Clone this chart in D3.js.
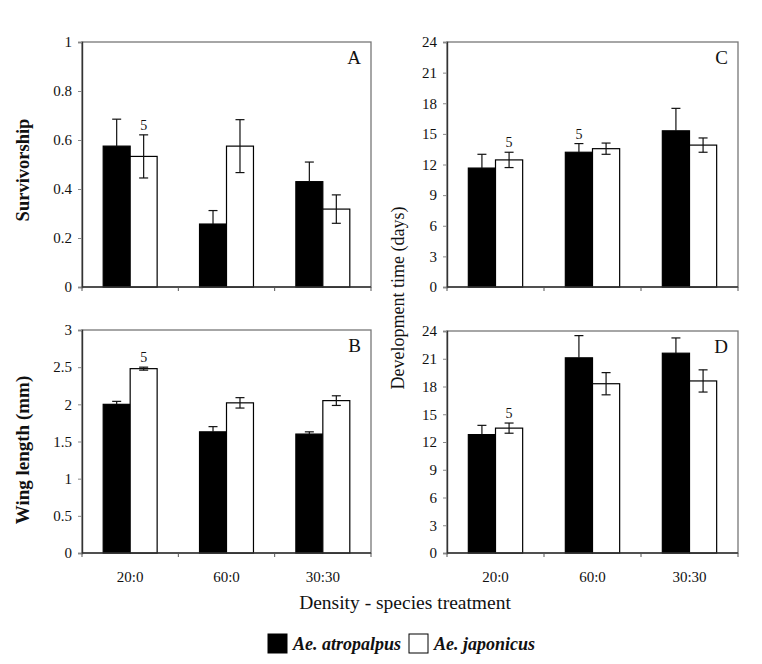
<!DOCTYPE html>
<html><head><meta charset="utf-8">
<script src="https://cdn.jsdelivr.net/npm/d3@7"></script>
<style>
body{margin:0;background:#fff;}
svg, svg text{font-family:"Liberation Serif","Times New Roman",Tinos,"DejaVu Serif",serif !important;}
</style></head>
<body>
<svg id="chart" width="762" height="664"></svg>
<script>
// ---- data ----
const categories = ["20:0", "60:0", "30:30"];
const seriesNames = ["Ae. atropalpus", "Ae. japonicus"];

const survAtro = [0.575, 0.257, 0.43];
const survAtroErr = [0.11, 0.055, 0.08];
const survJap = [0.533, 0.575, 0.318];
const survJapErr = [0.088, 0.108, 0.058];

const wingAtro = [2.0, 1.63, 1.6];
const wingAtroErr = [0.04, 0.07, 0.03];
const wingJap = [2.48, 2.02, 2.05];
const wingJapErr = [0.02, 0.07, 0.065];

const devCAtro = [11.65, 13.2, 15.3];
const devCAtroErr = [1.35, 0.85, 2.2];
const devCJap = [12.45, 13.55, 13.9];
const devCJapErr = [0.75, 0.55, 0.7];

const devDAtro = [12.8, 21.1, 21.6];
const devDAtroErr = [1.0, 2.4, 1.65];
const devDJap = [13.5, 18.3, 18.6];
const devDJapErr = [0.55, 1.2, 1.2];

const survTicks = [0, 0.2, 0.4, 0.6, 0.8, 1];
const wingTicks = [0, 0.5, 1, 1.5, 2, 2.5, 3];
const devTicks = [0, 3, 6, 9, 12, 15, 18, 21, 24];

// sample-size notes: [category index, series index, label]
const notesA = [[0, 1, "5"]];
const notesB = [[0, 1, "5"]];
const notesC = [[0, 1, "5"], [1, 0, "5"]];
const notesD = [[0, 1, "5"]];

const fills = ["#000000", "#ffffff"];
const FONT = "'Liberation Serif', 'Times New Roman', Tinos, 'DejaVu Serif', serif";

// ---- drawing ----
const svg = d3.select("#chart");

function panel(opts) {
  const {x0, x1, y0, y1, max, ticks, fmt, atro, atroErr, jap, japErr, letter, notes, showX} = opts;
  const g = svg.append("g").attr("font-family", FONT);
  const x = d3.scaleBand().domain(categories).range([x0, x1]).paddingInner(0.44).paddingOuter(0.22);
  const xs = d3.scaleBand().domain([0, 1]).range([0, x.bandwidth()]);
  const y = d3.scaleLinear().domain([0, max]).range([y1, y0]);

  // frame
  g.append("rect").attr("x", x0).attr("y", y0).attr("width", x1 - x0).attr("height", y1 - y0)
    .attr("fill", "none").attr("stroke", "#777").attr("stroke-width", 1.3);

  const data = [];
  categories.forEach((c, i) => {
    data.push({c, s: 0, v: atro[i], e: atroErr[i]});
    data.push({c, s: 1, v: jap[i], e: japErr[i]});
  });

  g.selectAll("rect.bar").data(data).join("rect").attr("class", "bar")
    .attr("x", d => x(d.c) + xs(d.s))
    .attr("width", xs.bandwidth())
    .attr("y", d => y(d.v))
    .attr("height", d => y(0) - y(d.v))
    .attr("fill", d => fills[d.s])
    .attr("stroke", "#000").attr("stroke-width", 1.2);

  // error bars (lower half of black bars is hidden inside the black fill)
  const cap = 4.5;
  const cx = d => x(d.c) + xs(d.s) + xs.bandwidth() / 2;
  const lo = d => d.s === 0 ? y(d.v) : y(d.v - d.e);
  const eb = g.selectAll("g.err").data(data).join("g").attr("class", "err")
    .attr("stroke", "#111").attr("stroke-width", 1.2);
  eb.append("line")
    .attr("x1", cx).attr("x2", cx)
    .attr("y1", lo).attr("y2", d => y(d.v + d.e));
  eb.append("line")
    .attr("x1", d => cx(d) - cap).attr("x2", d => cx(d) + cap)
    .attr("y1", d => y(d.v + d.e)).attr("y2", d => y(d.v + d.e));
  eb.filter(d => d.s === 1).append("line")
    .attr("x1", d => cx(d) - cap).attr("x2", d => cx(d) + cap)
    .attr("y1", lo).attr("y2", lo);

  // y axis
  const ya = g.append("g").attr("transform", `translate(${x0},0)`)
    .call(d3.axisLeft(y).tickValues(ticks).tickFormat(fmt).tickSize(4).tickPadding(6));
  ya.attr("font-family", FONT);
  ya.select(".domain").attr("stroke", "#333").attr("stroke-width", 1.4);
  ya.selectAll(".tick line").attr("stroke", "#888");
  ya.selectAll("text").attr("font-size", 15).attr("fill", "#111");

  // x axis with boundary ticks
  const xa = g.append("g").attr("transform", `translate(0,${y1})`);
  xa.append("line").attr("x1", x0).attr("x2", x1).attr("stroke", "#333").attr("stroke-width", 1.4);
  const bounds = categories.map(c => x(c) - (x.step() - x.bandwidth()) / 2).concat([x1]);
  xa.selectAll("line.bt").data(bounds).join("line").attr("class", "bt")
    .attr("x1", d => d).attr("x2", d => d).attr("y1", 0).attr("y2", 4)
    .attr("stroke", "#555");
  if (showX) {
    xa.selectAll("text").data(categories).join("text")
      .attr("x", d => x(d) + x.bandwidth() / 2).attr("y", 29)
      .attr("text-anchor", "middle").attr("font-size", 15).attr("fill", "#111")
      .text(d => d);
  }

  // letter
  g.append("text").attr("x", x1 - 10).attr("y", y0 + 22).attr("text-anchor", "end")
    .attr("font-size", 19).attr("fill", "#111").text(letter);

  // notes
  notes.forEach(([ci, si, lab]) => {
    const v = si === 0 ? atro[ci] + atroErr[ci] : jap[ci] + japErr[ci];
    g.append("text").attr("x", x(categories[ci]) + xs(si) + xs.bandwidth() / 2)
      .attr("y", y(v) - 5).attr("text-anchor", "middle").attr("font-size", 14)
      .attr("fill", "#111").text(lab);
  });
}

panel({x0: 82, x1: 371, y0: 42, y1: 287, max: 1, ticks: survTicks, fmt: d3.format("~g"),
  atro: survAtro, atroErr: survAtroErr, jap: survJap, japErr: survJapErr, letter: "A", notes: notesA, showX: false});
panel({x0: 82, x1: 371, y0: 330, y1: 553, max: 3, ticks: wingTicks, fmt: d3.format("~g"),
  atro: wingAtro, atroErr: wingAtroErr, jap: wingJap, japErr: wingJapErr, letter: "B", notes: notesB, showX: true});
panel({x0: 447, x1: 738, y0: 42, y1: 287, max: 24, ticks: devTicks, fmt: d3.format("d"),
  atro: devCAtro, atroErr: devCAtroErr, jap: devCJap, japErr: devCJapErr, letter: "C", notes: notesC, showX: false});
panel({x0: 447, x1: 738, y0: 331, y1: 553, max: 24, ticks: devTicks, fmt: d3.format("d"),
  atro: devDAtro, atroErr: devDAtroErr, jap: devDJap, japErr: devDJapErr, letter: "D", notes: notesD, showX: true});

// axis titles
const titles = svg.append("g").attr("font-family", FONT).attr("fill", "#111");
titles.append("text").attr("transform", "translate(29,170) rotate(-90)")
  .attr("text-anchor", "middle").attr("font-size", 18.5).attr("font-weight", "bold")
  .text("Survivorship");
titles.append("text").attr("transform", "translate(29,450) rotate(-90)")
  .attr("text-anchor", "middle").attr("font-size", 19).attr("font-weight", "bold")
  .text("Wing length (mm)");
titles.append("text").attr("transform", "translate(404,298) rotate(-90)")
  .attr("text-anchor", "middle").attr("font-size", 18)
  .text("Development time (days)");
titles.append("text").attr("x", 405).attr("y", 609)
  .attr("text-anchor", "middle").attr("font-size", 19.5)
  .text("Density - species treatment");

// legend
const leg = svg.append("g").attr("font-family", FONT);
const legX = [268, 409];
seriesNames.forEach((s, i) => {
  leg.append("rect").attr("x", legX[i]).attr("y", 634).attr("width", 19).attr("height", 19)
    .attr("fill", fills[i]).attr("stroke", "#000").attr("stroke-width", 1);
  leg.append("text").attr("x", legX[i] + 25).attr("y", 650)
    .attr("font-size", 18).attr("font-style", "italic").attr("font-weight", "bold")
    .attr("fill", "#111").text(s);
});
</script>
</body></html>
